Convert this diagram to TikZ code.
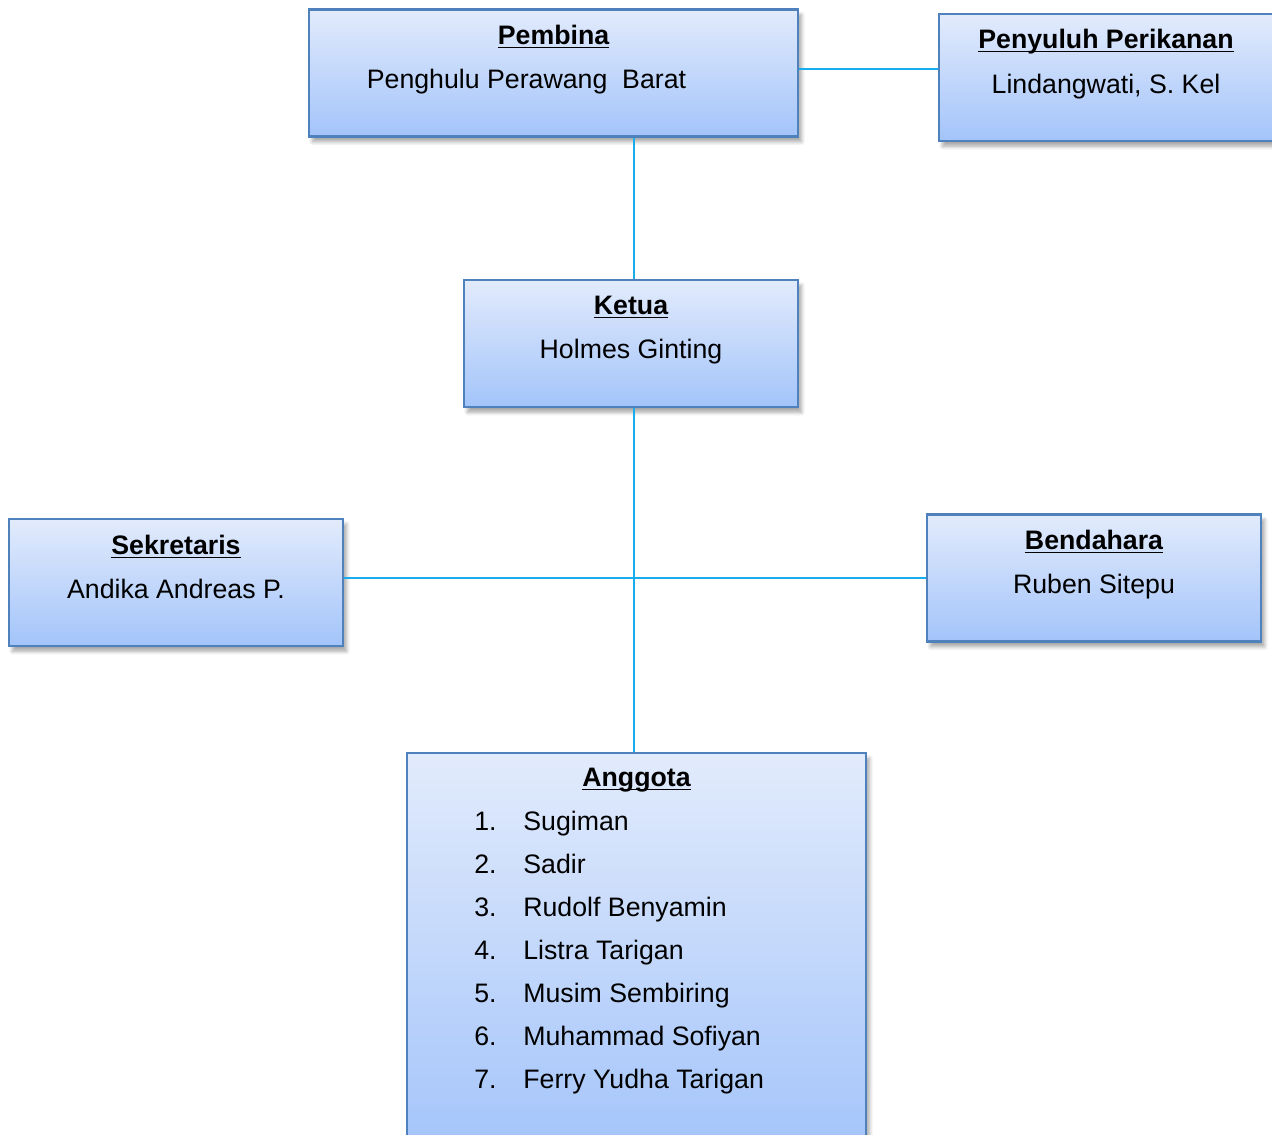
\documentclass[tikz,border=0pt]{standalone}
\usepackage{fontspec}
\setmainfont{Liberation Sans}
\usetikzlibrary{%
    positioning,
    shadows.blur
}
\newcommand{\headline}[1]{\underline{\smash{#1}}}
\definecolor{boxborder}{RGB}{79,129,189}
\definecolor{boxtop}{RGB}{226,235,252}
\definecolor{boxbottom}{RGB}{163,196,250}
\definecolor{linkblue}{RGB}{25,172,236}
\tikzset{
    orgbox/.style = {draw=boxborder, line width=1.2pt, top color=boxtop,
        bottom color=boxbottom, inner sep=0pt, minimum width=6.68cm,
        minimum height=2.54cm,
        blur shadow={shadow xshift=2pt, shadow yshift=-3pt,
            shadow blur steps=6, shadow opacity=35}},
    link/.style = {draw=linkblue, line width=1.4pt},
    title/.style = {font=\fontsize{15.2}{18}\selectfont\bfseries, anchor=mid, inner sep=0pt},
    person/.style = {font=\fontsize{15.2}{18}\selectfont, anchor=mid, inner sep=0pt}
}

\begin{document}
\begin{tikzpicture}
    \path[use as bounding box, clip] (0,0) rectangle (25.44,-22.7);

    \node[orgbox, minimum width=9.78cm] (pembina) at (11.07,-1.46) {};
    \node[orgbox] (penyuluh) at (22.12,-1.55) {};
    \node[orgbox] (ketua) at (12.62,-6.87) {};
    \node[orgbox] (sekretaris) at (3.52,-11.65) {};
    \node[orgbox] (bendahara) at (21.88,-11.56) {};
    \node[orgbox, minimum width=9.18cm, minimum height=8cm, anchor=north] (anggota) at (12.73,-15.04) {};

    \node[title] (pembina-t) at (11.07,-0.80) {\headline{Pembina}};
    \node[person] (pembina-n) at (10.53,-1.68) {Penghulu Perawang\ \ Barat};
    \node[title] (penyuluh-t) at (22.12,-0.88) {\headline{Penyuluh Perikanan}};
    \node[person] (penyuluh-n) at (22.12,-1.78) {Lindangwati, S. Kel};
    \node[title] (ketua-t) at (12.62,-6.20) {\headline{Ketua}};
    \node[person] (ketua-n) at (12.62,-7.08) {Holmes Ginting};
    \node[title] (sekretaris-t) at (3.52,-11.00) {\headline{Sekretaris}};
    \node[person] (sekretaris-n) at (3.52,-11.88) {Andika Andreas P.};
    \node[title] (bendahara-t) at (21.88,-10.90) {\headline{Bendahara}};
    \node[person] (bendahara-n) at (21.88,-11.78) {Ruben Sitepu};
    \node[title] (anggota-t) at (12.73,-15.64) {\headline{Anggota}};
    \foreach \i/\name in {1/Sugiman, 2/Sadir, 3/Rudolf Benyamin, 4/Listra Tarigan,
        5/Musim Sembiring, 6/Muhammad Sofiyan, 7/Ferry Yudha Tarigan} {
        \node[person, anchor=mid west] (num-\i) at (9.48,-16.52-0.86*\i+0.86) {\i.};
        \node[person, anchor=mid west] (anggota-\i) at (10.46,-16.52-0.86*\i+0.86) {\name};
    }

    \draw[link] ([yshift=0.08cm]pembina.east) -- ([yshift=0.08cm]pembina.east -| penyuluh.west);
    \draw[link] ([xshift=0.06cm]pembina.south -| ketua.north) -- ([xshift=0.06cm]ketua.north);
    \draw[link] ([xshift=0.06cm]ketua.south) -- ([xshift=0.06cm]ketua.south |- anggota.north);
    \draw[link] (sekretaris.east |- bendahara.west) -- (bendahara.west);
\end{tikzpicture}
\end{document}
